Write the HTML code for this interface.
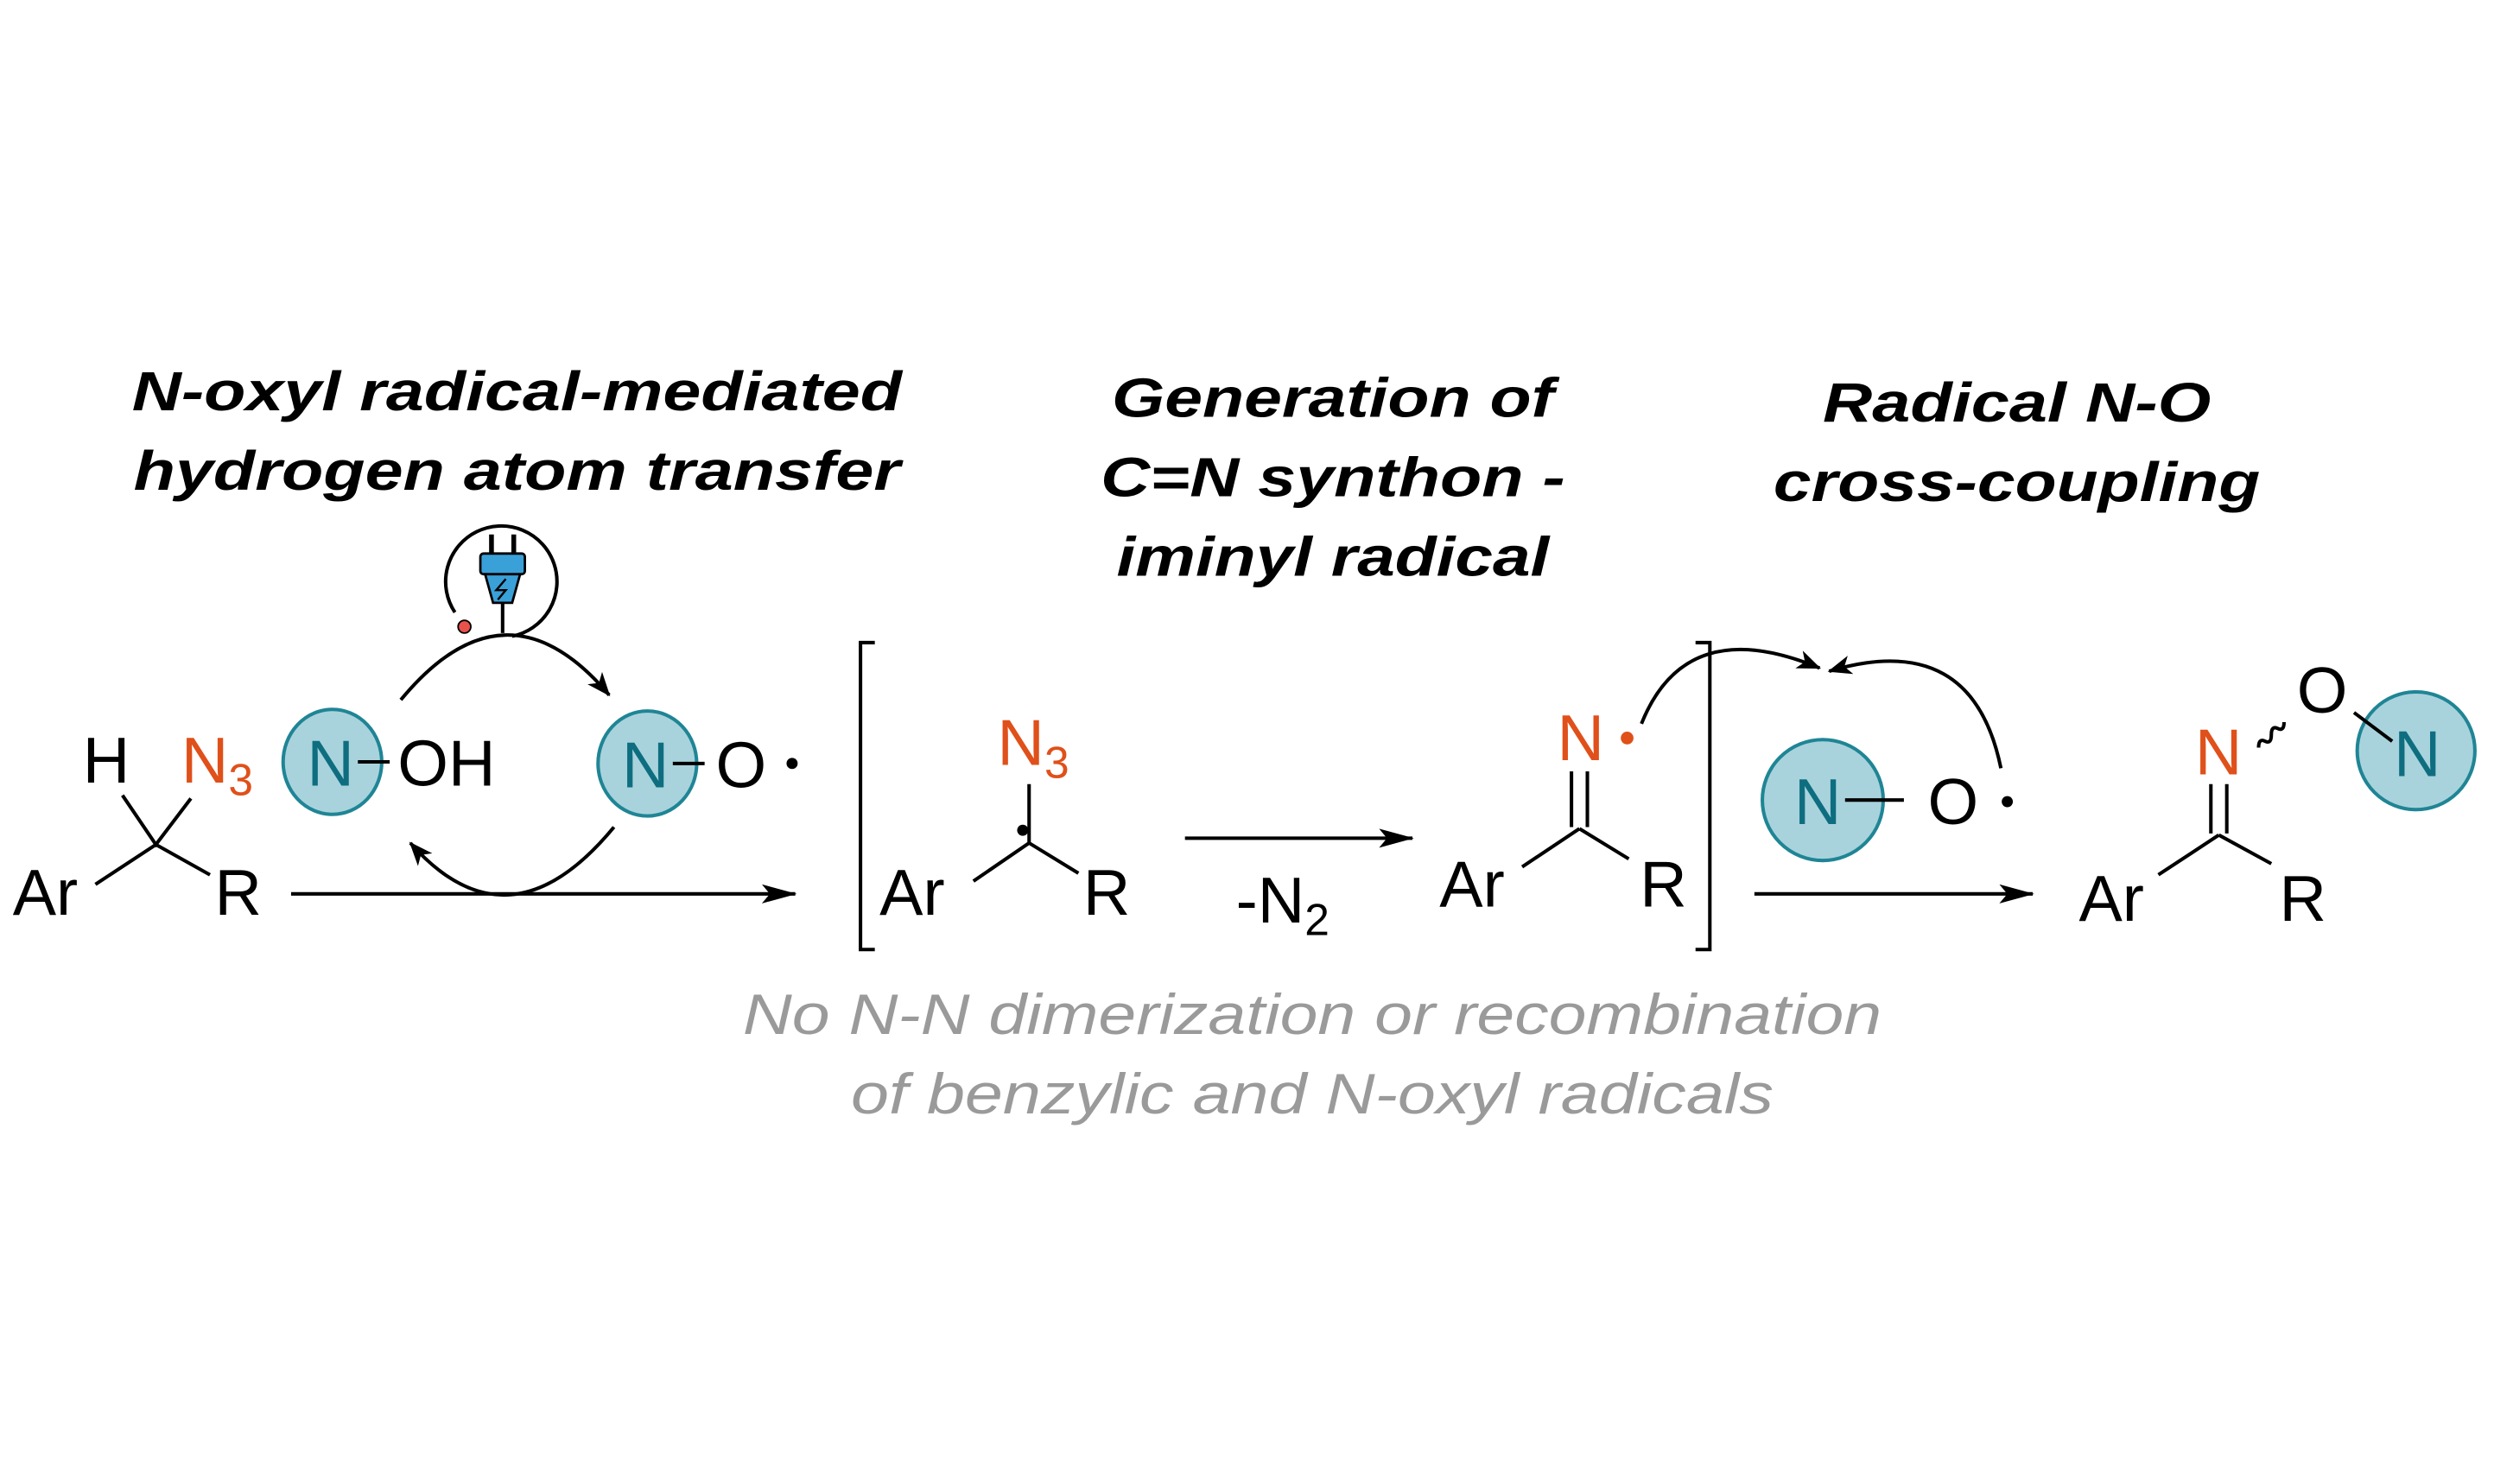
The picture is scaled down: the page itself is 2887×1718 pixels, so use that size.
<!DOCTYPE html>
<html><head><meta charset="utf-8"><style>
html,body{margin:0;padding:0;background:#fff;}
svg{display:block;}
.t{font-family:"Liberation Sans",sans-serif;font-weight:bold;font-style:italic;font-size:35px;fill:#000;text-anchor:middle;}
.c{font-family:"Liberation Sans",sans-serif;font-size:41px;fill:#000;}
.o{fill:#e0501a;}
.n{fill:#0e6e80;}
.g{font-family:"Liberation Sans",sans-serif;font-style:italic;font-size:36px;fill:#9a9a9a;text-anchor:middle;}
.l{stroke:#000;stroke-width:2.2;fill:none;}
.cir{fill:#a9d3dc;stroke:#1f8595;stroke-width:2.2;}
</style></head><body>
<svg width="2887" height="1718" viewBox="0 0 1568 933" xmlns="http://www.w3.org/2000/svg">
<defs>
<marker id="ah" markerWidth="16" markerHeight="12" refX="14" refY="6" orient="auto" markerUnits="userSpaceOnUse"><path d="M0,0 L15,6 L0,12 L4,6 Z"/></marker>
<marker id="big" markerWidth="22" markerHeight="12" refX="21" refY="6" orient="auto" markerUnits="userSpaceOnUse"><path d="M0,0 L22,6 L0,12 L5,6 Z"/></marker>
</defs>
<!-- titles -->
<text class="t" x="325" y="258" textLength="484" lengthAdjust="spacingAndGlyphs">N-oxyl radical-mediated</text>
<text class="t" x="325" y="308" textLength="482" lengthAdjust="spacingAndGlyphs">hydrogen atom transfer</text>
<text class="t" x="838" y="262" textLength="278" lengthAdjust="spacingAndGlyphs">Generation of</text>
<text class="t" x="838" y="312" textLength="292" lengthAdjust="spacingAndGlyphs">C=N synthon -</text>
<text class="t" x="838" y="362" textLength="272" lengthAdjust="spacingAndGlyphs">iminyl radical</text>
<text class="t" x="1268" y="265" textLength="244" lengthAdjust="spacingAndGlyphs">Radical N-O</text>
<text class="t" x="1268" y="315" textLength="306" lengthAdjust="spacingAndGlyphs">cross-coupling</text>

<!-- starting material -->
<text class="c" x="52" y="492">H</text>
<text class="c o" x="114" y="492">N<tspan font-size="28" dy="8">3</tspan></text>
<text class="c" x="8" y="575">Ar</text>
<text class="c" x="135" y="575">R</text>
<path class="l" d="M77,500 L98,531 L120,502 M98,531 L60,556 M98,531 L132,550"/>

<!-- N-OH -->
<ellipse class="cir" cx="209" cy="479" rx="31" ry="33"/>
<text class="c n" x="193" y="494">N</text>
<path class="l" d="M225,479 L245,479"/>
<text class="c" x="250" y="494">OH</text>
<!-- N-O. -->
<ellipse class="cir" cx="407" cy="480" rx="31" ry="33"/>
<text class="c n" x="391" y="495">N</text>
<path class="l" d="M423,480 L443,480"/>
<text class="c" x="450" y="495">O</text>
<circle cx="498" cy="480" r="3.5"/>
<!-- cycle arcs -->
<path class="l" d="M252,440 Q318,360 383,437" marker-end="url(#ah)"/>
<path class="l" d="M386,520 Q320,600 258,530" marker-end="url(#ah)"/>
<!-- plug icon -->
<g>
<path class="l" d="M322,400 A35,35 0 1 0 286,385" stroke-width="1.6"/>
<circle cx="292" cy="394" r="4" fill="#e8524a" stroke="#000" stroke-width="1"/>
<rect x="302" y="348" width="28" height="13" rx="2" fill="#3aa0d8" stroke="#000" stroke-width="1.5"/>
<path d="M305,361 L327,361 L322,379 L310,379 Z" fill="#3aa0d8" stroke="#000" stroke-width="1.5"/>
<path d="M309,348 L309,336 M323,348 L323,336" stroke="#000" stroke-width="3"/>
<path d="M318,364 L312,371 L318,371 L313,377" stroke="#000" stroke-width="1.3" fill="none"/>
<path class="l" d="M316,379 L316,398" stroke-width="1.5"/>
</g>
<!-- main arrow 1 -->
<path class="l" d="M183,562 L500,562" marker-end="url(#big)"/>

<!-- bracket -->
<path class="l" d="M550,404 L541,404 L541,597 L550,597"/>
<path class="l" d="M1066,404 L1075,404 L1075,597 L1066,597"/>
<!-- intermediate -->
<text class="c o" x="627" y="481">N<tspan font-size="28" dy="8">3</tspan></text>
<path class="l" d="M647,493 L647,530 L612,554 M647,530 L678,549"/>
<circle cx="643" cy="522" r="3.5"/>
<text class="c" x="553" y="575">Ar</text>
<text class="c" x="681" y="575">R</text>
<path class="l" d="M745,527 L888,527" marker-end="url(#big)"/>
<text class="c" x="777" y="580">-N<tspan font-size="28" dy="8">2</tspan></text>
<!-- imine -->
<text class="c o" x="979" y="478">N</text>
<circle cx="1023" cy="464" r="4" fill="#e0501a"/>
<path class="l" d="M988,485 L988,520 M998,485 L998,520 M993,521 L957,545 M993,521 L1024,540"/>
<text class="c" x="905" y="570">Ar</text>
<text class="c" x="1031" y="570">R</text>
<!-- coupling arrows -->
<path class="l" d="M1032,455 Q1060,385 1144,420" marker-end="url(#ah)"/>
<path class="l" d="M1258,483 Q1240,395 1150,422" marker-end="url(#ah)"/>
<ellipse class="cir" cx="1146" cy="503" rx="38" ry="38"/>
<text class="c n" x="1128" y="518">N</text>
<path class="l" d="M1160,503 L1197,503"/>
<text class="c" x="1212" y="518">O</text>
<circle cx="1262" cy="504" r="3.5"/>
<path class="l" d="M1103,562 L1278,562" marker-end="url(#big)"/>

<!-- product -->
<text class="c o" x="1380" y="487">N</text>
<path class="l" d="M1390,493 L1390,524 M1400,493 L1400,524 M1395,525 L1357,550 M1395,525 L1428,543"/>
<text class="c" x="1307" y="579">Ar</text>
<text class="c" x="1433" y="579">R</text>
<path class="l" d="M1420,470 q0,-6 4,-4 q4,2 4,-4 q0,-6 4,-4 q4,2 4,-4" stroke-width="1.6"/>
<text class="c" x="1444" y="448">O</text>
<ellipse class="cir" cx="1519" cy="472" rx="37" ry="37"/>
<text class="c n" x="1505" y="488">N</text>
<path class="l" d="M1480,448 L1504,466"/>

<!-- grey text -->
<text class="g" x="825" y="650" textLength="716" lengthAdjust="spacingAndGlyphs">No N-N dimerization or recombination</text>
<text class="g" x="825" y="700" textLength="580" lengthAdjust="spacingAndGlyphs">of benzylic and N-oxyl radicals</text>
</svg>
</body></html>
